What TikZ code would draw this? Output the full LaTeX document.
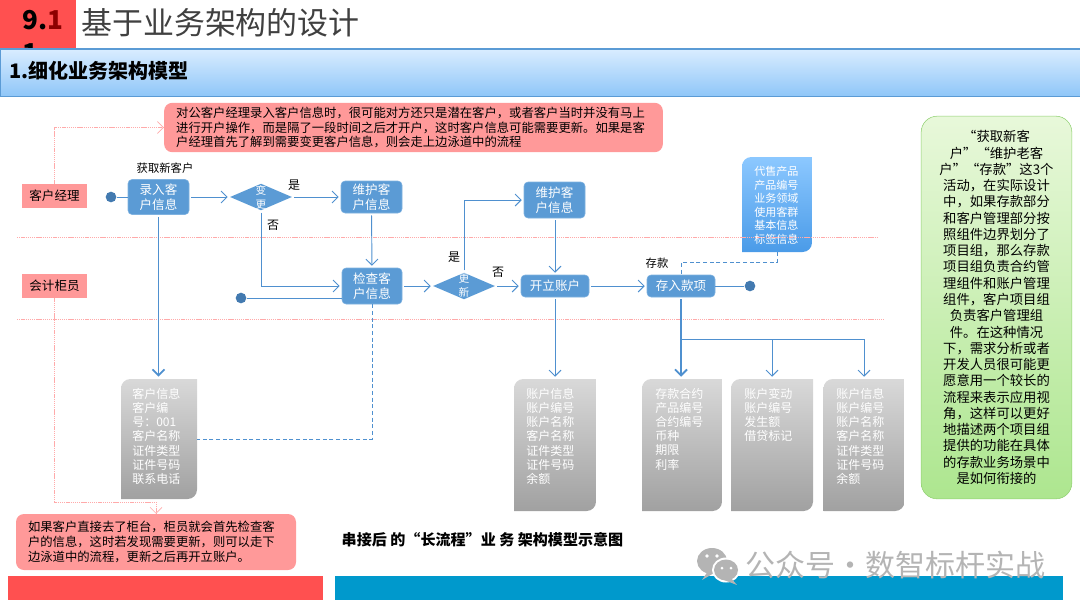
\documentclass[tikz,border=0pt]{standalone}
\usepackage{fontspec}
\usepackage{xcolor}
\setmainfont{Noto Sans CJK SC}
\usetikzlibrary{arrows.meta,calc,shapes.geometric}
\definecolor{kutuMavi}{HTML}{5B9BD5}
\definecolor{kenarMavi}{HTML}{7FB2E0}
\definecolor{okMavi}{HTML}{4F90CF}
\definecolor{notPembe}{HTML}{FF9999}
\definecolor{kulvarPembe}{HTML}{FFAAAA}
\definecolor{koyuKirmizi}{HTML}{FF5050}
\definecolor{altMavi}{HTML}{0099CC}
\definecolor{filigran}{HTML}{B4B4B4}
\definecolor{basUst}{HTML}{D8ECFF}
\definecolor{basAlt}{HTML}{8FC6F8}
\definecolor{satisUst}{HTML}{8CC8FF}
\definecolor{satisAlt}{HTML}{4A9BE8}
\definecolor{yanUst}{HTML}{E8F8DA}
\definecolor{yanAlt}{HTML}{ADE68F}
\definecolor{yanKenar}{HTML}{8FD070}
\tikzset{
  flowbox/.style={draw=kenarMavi,fill=kutuMavi,rounded corners=3pt,text=white,align=center,inner sep=0pt,
    font=\fontsize{9.4}{11}\selectfont},
  gatebox/.style={diamond,fill=kutuMavi,inner sep=0pt,minimum width=46.5pt,minimum height=20pt,aspect=2.4},
  gatetext/.style={text=white,align=center,inner sep=0pt,font=\fontsize{8}{10.5}\selectfont},
  flowline/.style={okMavi,line width=0.7pt,shorten <=1.5pt,shorten >=1.5pt,-{Straight Barb[length=4.5pt,width=9pt]}},
  heavyline/.style={flowline,line width=1.4pt},
  linkline/.style={okMavi,line width=0.5pt,densely dashed},
  noteline/.style={kulvarPembe,line width=0.5pt,dash pattern=on 1pt off 0.6pt,-{Straight Barb[length=4.5pt,width=9pt]}},
  laneline/.style={kulvarPembe,line width=0.5pt,dash pattern=on 1pt off 0.6pt},
  lanebox/.style={fill=notPembe,minimum width=48.75pt,minimum height=18pt,inner sep=0pt,
    font=\fontsize{9.4}{11}\selectfont},
  notebox/.style={fill=notPembe,rounded corners=6pt,align=left,inner xsep=9pt,inner ysep=0pt},
  startdot/.style={circle,fill=okMavi!85!black,minimum size=8pt,inner sep=0pt},
  smalltext/.style={inner sep=0pt,font=\fontsize{8.5}{10}\selectfont},
  docbox/.style n args={4}{minimum width=#1,minimum height=#2,inner sep=0pt,path picture={
    \path[top color=#3,bottom color=#4] (path picture bounding box.south west) [rounded corners=7pt]
      -- (path picture bounding box.north west) [sharp corners]
      -- (path picture bounding box.north east) [rounded corners=7pt]
      -- (path picture bounding box.south east) [sharp corners] -- cycle;}},
  doctext/.style={anchor=north west,align=left,inner sep=0pt,text=white,font=\fontsize{9}{10.6}\selectfont},
  sidebox/.style={draw=yanKenar,rounded corners=12pt,top color=yanUst,bottom color=yanAlt,inner sep=0pt,
    minimum width=113pt,minimum height=287pt,text width=107pt,align=center,font=\fontsize{10}{12.2}\selectfont},
}

\begin{document}
\begin{tikzpicture}[x=0.75pt,y=-0.75pt]
\useasboundingbox (0,0) rectangle (1080,608);

\node[fill=koyuKirmizi,minimum width=57pt,minimum height=36.75pt,inner sep=0pt] (tabRed) at (38,24.5) {};
\node[anchor=north west,align=left,inner sep=0pt,font=\fontsize{19.5}{25}\bfseries\selectfont] (tabNum) at (22,10)
  {9.\textcolor{red!55!black}{1}\\1};
\node[anchor=west,inner sep=0pt,text=black!75,font=\fontsize{23.2}{26}\selectfont] (mainTitle) at (81,23)
  {基于业务架构的设计};
\node[draw=kutuMavi,top color=basUst,bottom color=basAlt,minimum width=810pt,minimum height=35pt,
  inner sep=0pt] (headBar) at (540,73) {};
\draw[kutuMavi,line width=1.5pt] (headBar.north west)--(headBar.north east);
\node[anchor=west,inner sep=0pt,font=\fontsize{15}{17}\bfseries\selectfont] (headText) at (9,71) {1.细化业务架构模型};

\node[notebox,text width=356pt,minimum height=37pt,font=\fontsize{9.25}{10.9}\selectfont] (noteTop) at (413.5,127.5)
  {对公客户经理录入客户信息时，很可能对方还只是潜在客户，或者客户当时并没有马上\\
   进行开户操作，而是隔了一段时间之后才开户，这时客户信息可能需要更新。如果是客\\
   户经理首先了解到需要变更客户信息，则会走上边泳道中的流程};
\node[notebox,text width=192pt,minimum height=42pt,font=\fontsize{9.25}{11.4}\selectfont] (noteBot) at (156,542)
  {如果客户直接去了柜台，柜员就会首先检查客\\
   户的信息，这时若发现需要更新，则可以走下\\
   边泳道中的流程，更新之后再开立账户。};

\node[lanebox] (laneMgr) at (54.5,196) {客户经理};
\node[lanebox] (laneTel) at (54.5,286) {会计柜员};
\coordinate (turnNote) at (156,502);
\draw[noteline] (laneMgr.north) |- (noteTop.west);
\draw[noteline] (laneTel.south) |- (turnNote) -- (noteBot.north);

\node[startdot] (dotA) at (111,197) {};
\node[startdot] (dotB) at (241,298) {};
\node[startdot] (dotC) at (750,286) {};
\node[flowbox,minimum width=45.75pt,minimum height=26.25pt] (enterInfo) at (158.5,197) {录入客\\户信息};
\node[gatebox,label={[gatetext]center:变\\更}] (gateChange) at (261,197) {};
\node[flowbox,minimum width=45.75pt,minimum height=24pt] (keepA) at (371.5,197) {维护客\\户信息};
\node[flowbox,minimum width=45pt,minimum height=27pt] (checkInfo) at (372,286) {检查客\\户信息};
\node[gatebox,label={[gatetext]center:更\\新}] (gateUpdate) at (464,286) {};
\node[flowbox,minimum width=45.75pt,minimum height=27pt] (keepB) at (554.5,200) {维护客\\户信息};
\node[flowbox,minimum width=51pt,minimum height=16.5pt] (openAcct) at (555,286) {开立账户};
\node[flowbox,minimum width=51pt,minimum height=16.5pt] (depositIn) at (681,286) {存入款项};

\node[smalltext] (tagNew) at (165,168) {获取新客户};
\node[smalltext] (tagDep) at (657,263) {存款};
\node[smalltext,font=\fontsize{9}{10}\selectfont] (tagYesA) at (294,185) {是};
\node[smalltext,font=\fontsize{9}{10}\selectfont] (tagNoA) at (273,225) {否};
\node[smalltext,font=\fontsize{9}{10}\selectfont] (tagYesB) at (454,257) {是};
\node[smalltext,font=\fontsize{9}{10}\selectfont] (tagNoB) at (498,272) {否};

\node[docbox={52.5pt}{71.25pt}{satisUst}{satisAlt}] (saleBox) at (777,204.5) {};
\node[doctext,font=\fontsize{8.3}{10.2}\selectfont] (saleText) at (754,166)
  {代售产品\\产品编号\\业务领域\\使用客群\\基本信息\\标签信息};
\node[docbox={57pt}{90pt}{black!15}{black!37}] (custBox) at (159,439) {};
\node[doctext] (custText) at (132,388) {客户信息\\客户编\\号：001\\客户名称\\证件类型\\证件号码\\联系电话};
\node[docbox={61.5pt}{99pt}{black!15}{black!37}] (acctBox) at (555,445) {};
\node[doctext] (acctText) at (526,388) {账户信息\\账户编号\\账户名称\\客户名称\\证件类型\\证件号码\\余额};
\node[docbox={60pt}{99pt}{black!15}{black!37}] (termBox) at (682,445) {};
\node[doctext] (termText) at (655,388) {存款合约\\产品编号\\合约编号\\币种\\期限\\利率};
\node[docbox={61.5pt}{99pt}{black!15}{black!37}] (moveBox) at (772,445) {};
\node[doctext] (moveText) at (744,388) {账户变动\\账户编号\\发生额\\借贷标记};
\node[docbox={60.75pt}{99pt}{black!15}{black!37}] (acctBoxB) at (864,445) {};
\node[doctext] (acctTextB) at (836,388) {账户信息\\账户编号\\账户名称\\客户名称\\证件类型\\证件号码\\余额};

\coordinate (laneAl) at (17,237);
\coordinate (laneAr) at (877,237);
\coordinate (laneBl) at (17,319);
\coordinate (laneBr) at (884,319);
\draw[laneline] (laneAl)--(laneAr);
\draw[laneline] (laneBl)--(laneBr);

\draw[okMavi,line width=0.7pt] (dotA)--(enterInfo.west);
\draw[flowline] (enterInfo.east)--(gateChange.west);
\draw[flowline] (gateChange.east)--(keepA.west);
\draw[flowline] (keepA.south)--(checkInfo.north);
\draw[flowline] (gateChange.south) |- (checkInfo.west);
\draw[okMavi,line width=0.7pt] (dotB)--(dotB -| checkInfo.west);
\draw[flowline] (checkInfo.east)--(gateUpdate.west);
\draw[flowline] (gateUpdate.north) |- (keepB.west);
\draw[flowline] (gateUpdate.east)--(openAcct.west);
\draw[flowline] (keepB.south -| openAcct.north)--(openAcct.north);
\draw[flowline] (openAcct.east)--(depositIn.west);
\draw[okMavi,line width=0.7pt] (depositIn.east)--(dotC);
\draw[flowline] (openAcct.south)--(openAcct.south |- acctBox.north);
\draw[heavyline] (enterInfo.south)--(enterInfo.south |- custBox.north);
\draw[heavyline] (depositIn.south)--(depositIn.south |- termBox.north);
\coordinate (forkDep) at (681,339);
\draw[flowline,shorten <=0pt] (forkDep)-|(moveBox.north);
\draw[flowline,shorten <=0pt] (forkDep)-|(acctBoxB.north);
\draw[linkline] (saleBox.south) |- ($(saleBox.south)+(0,10)$) -| (depositIn.north);
\draw[linkline] (checkInfo.south) |- (custBox.east);

\node[sidebox] (sideNote) at (996.5,307.5)
  {“获取新客\\户”“维护老客\\户”“存款”这3个\\活动，在实际设计\\中，如果存款部分\\和客户管理部分按\\照组件边界划分了\\
   项目组，那么存款\\项目组负责合约管\\理组件和账户管理\\组件，客户项目组\\负责客户管理组\hspace*{1em}\\件。在这种情况\hspace*{1em}\\下，需求分析或者\\
   开发人员很可能更\\愿意用一个较长的\\流程来表示应用视\\角，这样可以更好\\地描述两个项目组\\提供的功能在具体\\的存款业务场景中\\是如何衔接的};

\node[inner sep=0pt,font=\fontsize{11.3}{13}\bfseries\selectfont] (capText) at (482.5,540)
  {串接后 的“长流程”业 务 架构模型示意图};
\node[fill=koyuKirmizi,minimum width=236.25pt,minimum height=18pt,inner sep=0pt] (barRed) at (165.5,588) {};
\node[fill=altMavi,minimum width=546pt,minimum height=18pt,inner sep=0pt] (barBlue) at (699,588) {};

\fill[filigran] (712,561) ellipse (15 and 13);
\fill[filigran] (708,571) -- (702,580) -- (714,573) -- cycle;
\fill[white] (726,570) ellipse (14 and 12.5);
\fill[filigran] (726,570) ellipse (12 and 10.5);
\fill[filigran] (731,578) -- (737,585) -- (724,580) -- cycle;
\fill[white] (707,556) circle (1.8);
\fill[white] (717,556) circle (1.8);
\fill[white] (722,568) circle (1.5);
\fill[white] (731,568) circle (1.5);
\node[anchor=west,inner sep=0pt,text=filigran,font=\fontsize{22.5}{25}\selectfont] (markText) at (745,565)
  {公众号·数智标杆实战};
\end{tikzpicture}
\end{document}
